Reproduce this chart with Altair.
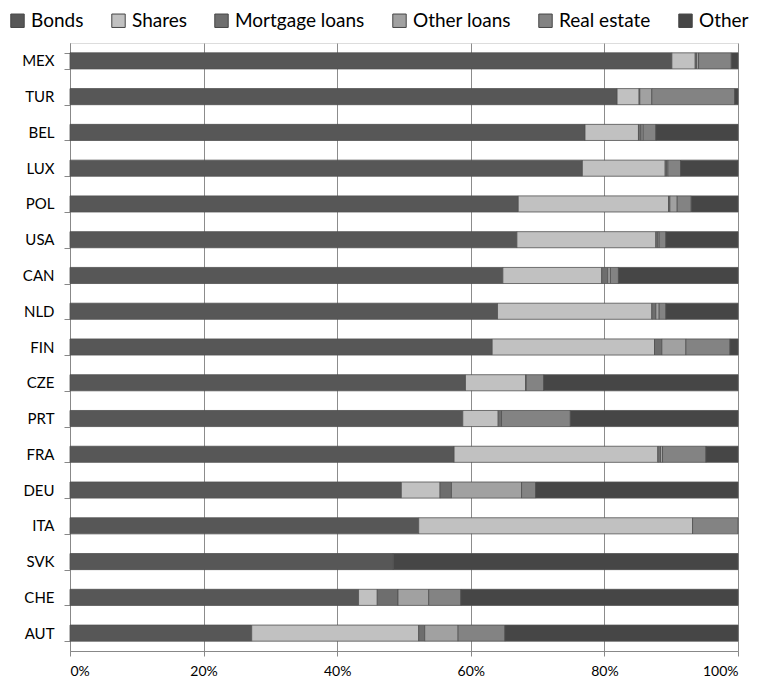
import altair as alt
import pandas as pd

countries = ["MEX", "TUR", "BEL", "LUX", "POL", "USA", "CAN", "NLD", "FIN",
             "CZE", "PRT", "FRA", "DEU", "ITA", "SVK", "CHE", "AUT"]
categories = ["Bonds", "Shares", "Mortgage loans", "Other loans", "Real estate", "Other"]

bonds       = [90.1, 81.9, 77.1, 76.7, 67.1, 66.9, 64.8, 64.0, 63.2, 59.2, 58.8, 57.5, 49.6, 52.2, 48.4, 43.2, 27.2]
shares      = [3.5, 3.3, 8.0, 12.4, 22.5, 20.8, 14.8, 23.1, 24.3, 9.0, 5.3, 30.5, 5.8, 41.0, 0.0, 2.8, 25.0]
mortgage    = [0.2, 0.1, 0.4, 0.2, 0.2, 0.3, 0.9, 0.6, 1.1, 0.0, 0.5, 0.4, 1.7, 0.0, 0.0, 3.1, 0.9]
other_loans = [0.3, 1.8, 0.3, 0.2, 1.1, 0.2, 0.4, 0.5, 3.6, 0.1, 0.0, 0.3, 10.5, 0.0, 0.0, 4.6, 5.0]
real_estate = [4.9, 12.4, 1.9, 1.9, 2.1, 1.0, 1.2, 1.0, 6.6, 2.6, 10.3, 6.5, 2.1, 6.8, 0.0, 4.8, 7.0]
other       = [1.0, 0.5, 12.3, 8.6, 7.0, 10.8, 17.9, 10.8, 1.2, 29.1, 25.1, 4.8, 30.3, 0.0, 51.6, 41.5, 34.9]

colors = ["#575757", "#c1c1c1", "#6e6e6e", "#a1a1a1", "#838383", "#464646"]

series = [bonds, shares, mortgage, other_loans, real_estate, other]
rows = []
for ci, (cat, vals) in enumerate(zip(categories, series)):
    for c, v in zip(countries, vals):
        rows.append({"country": c, "category": cat, "order": ci, "value": v})
df = pd.DataFrame(rows)

FONT = "Lato"

chart = alt.Chart(df).transform_filter(
    alt.datum.value > 0
).mark_bar(stroke="#505050", strokeWidth=1, strokeOpacity=0.8).encode(
    y=alt.Y("country:N", sort=countries, title=None,
            scale=alt.Scale(paddingInner=0.55, paddingOuter=0.275),
            axis=alt.Axis(tickBand="extent", tickSize=6, tickColor="#888888",
                          domainColor="#888888", labelFont=FONT, labelFontSize=15,
                          labelColor="#000000", labelPadding=10, grid=False)),
    x=alt.X("value:Q", stack="normalize", title=None,
            scale=alt.Scale(domain=[0, 1], nice=False),
            axis=alt.Axis(format=".0%", values=[0, 0.2, 0.4, 0.6, 0.8, 1.0],
                          grid=True, gridColor="#8c8c8c", gridWidth=1,
                          tickSize=5, tickColor="#888888", domainColor="#888888",
                          labelFont=FONT, labelFontSize=14, labelColor="#000000",
                          labelPadding=8)),
    color=alt.Color("category:N", scale=alt.Scale(domain=categories, range=colors),
                    legend=alt.Legend(title=None, orient="none", direction="horizontal",
                                      legendX=-62, legendY=-32, columns=6,
                                      columnPadding=25, symbolType="square",
                                      symbolSize=180, symbolStrokeColor="#444444",
                                      symbolStrokeWidth=1, labelFont=FONT,
                                      labelFontSize=19, labelColor="#000000",
                                      labelOffset=4, labelLimit=300)),
    order=alt.Order("order:Q", sort="ascending"),
).properties(
    width=668, height=608,
    autosize=alt.AutoSizeParams(type="none"),
    padding={"left": 62, "top": 35, "right": 17, "bottom": 27},
).configure_view(
    fill="#e6e6e6", stroke=None
).configure(background="#ffffff")

chart.save("out.html", embed_options={"renderer": "svg", "actions": False})
